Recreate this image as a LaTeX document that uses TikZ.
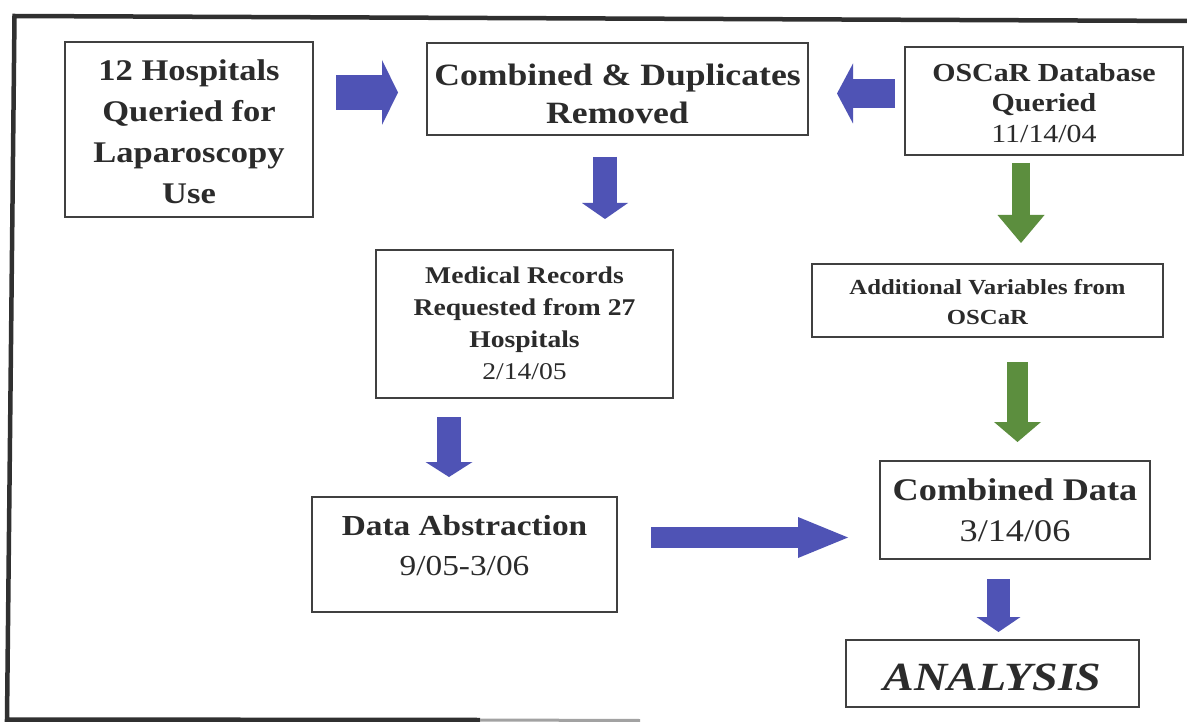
\documentclass[tikz,border=0pt]{standalone}
\usepackage{fontspec}
\setmainfont{Liberation Serif}[FakeStretch=1.15]
\usetikzlibrary{arrows.meta}

\definecolor{ink}{HTML}{2B2B2B}
\definecolor{edge}{HTML}{404040}
\definecolor{framegray}{HTML}{303030}
\definecolor{flowblue}{HTML}{4F53B5}
\definecolor{flowgreen}{HTML}{5C8E3E}

% centred lines of a stage, shifted vertically without changing the box size
\newcommand\stagelines[2]{\raisebox{#1}[\height][\depth]{\begin{tabular}{@{}c@{}}#2\end{tabular}}}

\begin{document}
\begin{tikzpicture}[x=1pt,y=-1pt,
  stage/.style={draw=edge, line width=1.5pt, fill=white, text=ink, inner sep=0pt},
  blockarrow/.style n args={4}{draw=#4, line width=#1,
    -{Triangle[width=#2, length=#3, line width=0pt]}}
]
\useasboundingbox (0,0) rectangle (1187,722);
\fill[white] (0,0) rectangle (1187,722);

% outer frame
\draw[framegray, line width=4.5pt, line join=miter]
  (480,720) -- (7,719.5) -- (14.5,16) -- (1195,21);
\draw[framegray!45, line width=3pt] (480,720) -- (640,720.5);

% stages
\node[stage, minimum width=248pt, minimum height=175pt,
      font=\bfseries\fontsize{30}{41}\selectfont] (hosp) at (189,129.5)
  {\stagelines{-4pt}{12 Hospitals\\Queried for\\Laparoscopy\\Use}};
\node[stage, minimum width=381pt, minimum height=92pt,
      font=\bfseries\fontsize{31}{38}\selectfont] (merge) at (617.5,89)
  {\stagelines{-7.5pt}{Combined \& Duplicates\\Removed}};
\node[stage, minimum width=278pt, minimum height=108pt,
      font=\bfseries\fontsize{26}{30.5}\selectfont] (oscar) at (1044,101)
  {\stagelines{-4.5pt}{OSCaR Database\\Queried\\\mdseries 11/14/04}};
\node[stage, minimum width=351pt, minimum height=73pt,
      font=\bfseries\fontsize{21.5}{30}\selectfont] (vars) at (987.5,300.5)
  {\stagelines{-3.5pt}{Additional Variables from\\OSCaR}};
\node[stage, minimum width=297pt, minimum height=148pt,
      font=\bfseries\fontsize{24}{32.3}\selectfont] (records) at (524.5,324)
  {\stagelines{-1pt}{Medical Records\\Requested from 27\\Hospitals\\\mdseries 2/14/05}};
\node[stage, minimum width=305pt, minimum height=115pt,
      font=\bfseries\fontsize{29}{40}\selectfont] (abstr) at (464.5,554.5)
  {\stagelines{7pt}{Data Abstraction\\\mdseries 9/05-3/06}};
\node[stage, minimum width=270pt, minimum height=98pt,
      font=\bfseries\fontsize{31.5}{41}\selectfont] (combined) at (1015,510)
  {\stagelines{-2.5pt}{Combined Data\\\mdseries 3/14/06}};
\node[stage, minimum width=293pt, minimum height=67pt,
      font=\bfseries\itshape\fontsize{40}{48}\selectfont] (analysis) at (992.5,673.5)
  {\stagelines{-7pt}{ANALYSIS}};

% arrow ends
\coordinate (hosp-out)     at (336,92.5);
\coordinate (merge-in1)    at (398,92.5);
\coordinate (oscar-out)    at (895,93.5);
\coordinate (merge-in2)    at (837,93.5);
\coordinate (merge-out)    at (605,157);
\coordinate (records-in)   at (605,219);
\coordinate (records-out)  at (449,417);
\coordinate (abstr-in)     at (449,477);
\coordinate (abstr-out)    at (651,537.5);
\coordinate (combined-in1) at (848,537.5);
\coordinate (oscar-down)   at (1021,163);
\coordinate (vars-in)      at (1021,243);
\coordinate (vars-out)     at (1017.5,362);
\coordinate (combined-in2) at (1017.5,442);
\coordinate (combined-out) at (998.5,579);
\coordinate (analysis-in)  at (998.5,632);

% flow arrows
\draw[blockarrow={35pt}{65pt}{16pt}{flowblue}] (hosp-out) -- (merge-in1);
\draw[blockarrow={29pt}{60pt}{16pt}{flowblue}] (oscar-out) -- (merge-in2);
\draw[blockarrow={24pt}{46pt}{16pt}{flowblue}] (merge-out) -- (records-in);
\draw[blockarrow={24pt}{47pt}{15pt}{flowblue}] (records-out) -- (abstr-in);
\draw[blockarrow={21pt}{41pt}{50pt}{flowblue}] (abstr-out) -- (combined-in1);
\draw[blockarrow={18pt}{47pt}{28pt}{flowgreen}] (oscar-down) -- (vars-in);
\draw[blockarrow={21pt}{47pt}{20pt}{flowgreen}] (vars-out) -- (combined-in2);
\draw[blockarrow={23pt}{44pt}{15pt}{flowblue}] (combined-out) -- (analysis-in);
\end{tikzpicture}
\end{document}
